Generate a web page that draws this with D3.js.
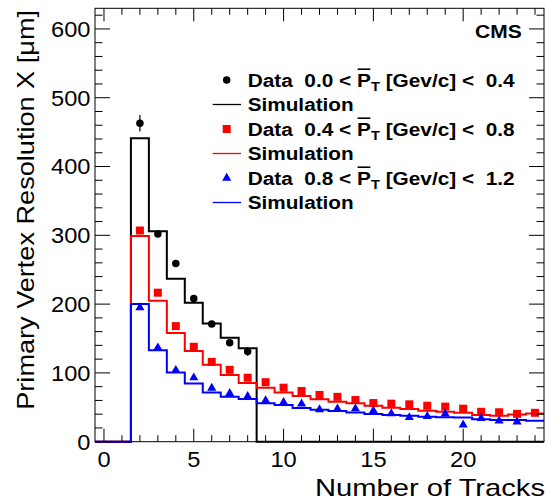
<!DOCTYPE html>
<html>
<head>
<meta charset="utf-8">
<script src="https://cdn.jsdelivr.net/npm/d3@7"></script>
<style>
  html, body { margin: 0; padding: 0; background: #fff; }
  svg { display: block; }
  text { font-family: "Liberation Sans", Arial, Helvetica, sans-serif; fill: #000; }
</style>
</head>
<body>
<svg id="chart" width="546" height="502"></svg>
<script>
// ---------------- data ----------------
const binCenters = d3.range(0, 25);            // 0..24 tracks
const simBlack = [0, 0, 441, 306, 237, 202, 172, 151, 136, 0, 0, 0, 0, 0, 0, 0, 0, 0, 0, 0, 0, 0, 0, 0, 0];
const simRed   = [0, 0, 299, 205, 158, 132, 112, 97, 85.5, 78.5, 71.5, 66.5, 61.8, 58, 55.8, 52.3, 49.5, 47.5, 45, 43.6, 42, 38.8, 37.8, 39.5, 41];
const simBlue  = [0, 0, 200, 133, 100.5, 84.5, 71.5, 65.4, 62, 56, 53.3, 49, 46.5, 44.5, 42.5, 40.3, 38.8, 37.8, 36.3, 35.5, 35, 32.5, 31.5, 31.5, 30.5];

const dataBlackX = [2, 3, 4, 5, 6, 7, 8];
const dataBlackY = [463, 302, 259, 208, 171, 144, 131];
const dataBlackErr = [12, 3, 3, 3, 3, 4, 6];

const dataRedX = d3.range(2, 25);
const dataRedY = [307, 216.6, 168, 138, 116, 104.5, 93, 86.5, 78.5, 73.7, 68, 65.2, 60.6, 56.2, 55.3, 54.3, 52.3, 51, 48, 43.5, 42.8, 40.5, 42];

const dataBlueX = d3.range(2, 24);
const dataBlueY = [195, 136.6, 104, 93, 78, 70.3, 66, 60, 57.5, 55, 46.8, 48, 48, 45, 41, 35.3, 36.8, 40.5, 24.5, 34, 30.3, 29];

const xMajorTicks = [0, 5, 10, 15, 20];
const yMajorTicks = [0, 100, 200, 300, 400, 500, 600];

const legendRanges = [["0.0", "0.4"], ["0.4", "0.8"], ["0.8", "1.2"]];
const seriesColors = ["#000000", "#ff0000", "#0000ff"];
const seriesMarkers = ["circle", "square", "triangle"];

// ---------------- layout ----------------
const svg = d3.select("#chart");
const L = 95, R = 544, T = 8.3, B = 441.7;
const x = d3.scaleLinear().domain([-0.5, 24.5]).range([L, R]);
const y = d3.scaleLinear().domain([0, 630]).range([B, T]);

// stretched text helper (ROOT fonts are wider than Liberation Sans)
function addText(parent, str, px, py, opts) {
  const g = parent.append("g");
  const t = g.append("text")
    .attr("x", 0).attr("y", 0)
    .attr("text-anchor", opts.anchor || "start")
    .style("font-size", opts.size + "px")
    .style("font-weight", opts.bold ? "bold" : "normal")
    .text(str);
  const w = t.node().getComputedTextLength();
  const k = opts.width ? opts.width / w : (opts.k || 1);
  g.attr("transform", `translate(${px},${py})` + (opts.rotate ? ` rotate(${opts.rotate})` : "") + ` scale(${k},1)`);
  return g;
}

// ---------------- histograms ----------------
function histPoints(vals) {
  const pts = vals.map((v, i) => [binCenters[i] - 0.5, v]);
  pts.push([binCenters[binCenters.length - 1] + 0.5, vals[vals.length - 1]]);
  return pts;
}
const stepLine = d3.line().x(d => x(d[0])).y(d => y(d[1])).curve(d3.curveStepAfter);
[simBlack, simRed, simBlue].forEach((vals, i) => {
  svg.append("path")
    .attr("d", stepLine(histPoints(vals)))
    .attr("fill", "none")
    .attr("stroke", seriesColors[i])
    .attr("stroke-width", 2);
});

// ---------------- data points ----------------
const markerSym = {
  circle: d3.symbol().type(d3.symbolCircle).size(44),
  square: d3.symbol().type(d3.symbolSquare).size(64),
  triangle: d3.symbol().type(d3.symbolTriangle).size(36)
};
function drawMarker(parent, kind, cx, cy, color) {
  parent.append("path")
    .attr("d", markerSym[kind]())
    .attr("transform", `translate(${cx},${cy})`)
    .attr("fill", color);
}
// error bars (black)
dataBlackX.forEach((xv, i) => {
  svg.append("line")
    .attr("x1", x(xv)).attr("x2", x(xv))
    .attr("y1", y(dataBlackY[i] - dataBlackErr[i])).attr("y2", y(dataBlackY[i] + dataBlackErr[i]))
    .attr("stroke", "#000").attr("stroke-width", 1.2);
});
const pointSets = [[dataBlackX, dataBlackY], [dataRedX, dataRedY], [dataBlueX, dataBlueY]];
pointSets.forEach(([xs, ys], s) => {
  xs.forEach((xv, i) => drawMarker(svg, seriesMarkers[s], x(xv), y(ys[i]), seriesColors[s]));
});

// ---------------- frame & ticks ----------------
svg.append("rect").attr("x", L).attr("y", T).attr("width", R - L).attr("height", B - T)
  .attr("fill", "none").attr("stroke", "#000").attr("stroke-width", 1);

const xMinor = d3.range(0, 25);
xMinor.forEach(v => {
  const len = xMajorTicks.includes(v) ? 13 : 6.5;
  svg.append("line").attr("x1", x(v)).attr("x2", x(v)).attr("y1", B).attr("y2", B - len)
    .attr("stroke", "#000").attr("stroke-width", 1);
  svg.append("line").attr("x1", x(v)).attr("x2", x(v)).attr("y1", T).attr("y2", T + len)
    .attr("stroke", "#000").attr("stroke-width", 1);
});
const yMinor = d3.range(0, 621, 20);
yMinor.forEach(v => {
  const len = yMajorTicks.includes(v) ? 15 : 7.5;
  svg.append("line").attr("x1", L).attr("x2", L + len).attr("y1", y(v)).attr("y2", y(v))
    .attr("stroke", "#000").attr("stroke-width", 1);
  svg.append("line").attr("x1", R).attr("x2", R - len).attr("y1", y(v)).attr("y2", y(v))
    .attr("stroke", "#000").attr("stroke-width", 1);
});

// tick labels
xMajorTicks.forEach(v => addText(svg, String(v), x(v), 467, { size: 21.5, anchor: "middle", k: 1.1 }));
yMajorTicks.forEach(v => addText(svg, String(v), 90.5, y(v) + 7.8, { size: 21.5, anchor: "end", k: 1.1 }));

// axis titles
addText(svg, "Number of Tracks", 545, 495.7, { size: 24, anchor: "end", width: 230 });
addText(svg, "Primary Vertex Resolution X [\u03bcm]", 34, 10, { size: 23.5, anchor: "end", rotate: -90, width: 400 });

// CMS label
addText(svg, "CMS", 521.7, 38.3, { size: 18.5, anchor: "end", bold: true, width: 46.7 });

// ---------------- legend ----------------
const legX = 247.7, legMarkX = 226.7, lineX1 = 212.7, lineX2 = 241;
const base0 = 86.5, step = 24.5;
legendRanges.forEach((rg, i) => {
  const by = base0 + step * (2 * i);
  const sy = base0 + step * (2 * i + 1);
  // data marker
  drawMarker(svg, seriesMarkers[i], legMarkX, by - 6.5, seriesColors[i]);
  // data text
  const g = svg.append("g");
  const t = g.append("text").attr("x", 0).attr("y", 0)
    .style("font-size", "18.5px").style("font-weight", "bold").style("white-space", "pre");
  const pre = "Data  " + rg[0] + " < ";
  t.append("tspan").text(pre);
  t.append("tspan").text("P");
  t.append("tspan").attr("dy", 4.5).style("font-size", "13px").text("T");
  t.append("tspan").attr("dy", -4.5).text(" [Gev/c] <  " + rg[1]);
  const w = t.node().getComputedTextLength();
  const k = 267 / w;
  g.attr("transform", `translate(${legX},${by}) scale(${k},1)`);
  const ext = t.node().getExtentOfChar(pre.length);
  g.append("line").attr("x1", ext.x + 0.5).attr("x2", ext.x + ext.width - 0.5)
    .attr("y1", -17.3).attr("y2", -17.3).attr("stroke", "#000").attr("stroke-width", 1.6);
  // simulation line + text
  svg.append("line").attr("x1", lineX1).attr("x2", lineX2).attr("y1", sy - 6.5).attr("y2", sy - 6.5)
    .attr("stroke", seriesColors[i]).attr("stroke-width", 1.3);
  addText(svg, "Simulation", legX, sy, { size: 18.5, bold: true, width: 106 });
});
</script>
</body>
</html>
